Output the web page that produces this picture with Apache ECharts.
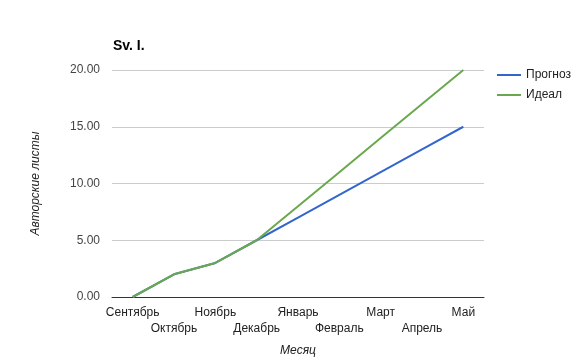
<!DOCTYPE html>
<html><head><meta charset="utf-8">
<script src="https://cdn.jsdelivr.net/npm/echarts@6/dist/echarts.min.js"></script>
<style>html,body{margin:0;padding:0;background:#fff}#c{width:578px;height:364px}</style>
</head><body><div id="c"></div>
<script>
const categories = ['Сентябрь','Октябрь','Ноябрь','Декабрь','Январь','Февраль','Март','Апрель','Май'];
const forecast = [0, 2, 3, 5, 7, 9, 11, 13, 15];
const ideal = [0, 2, 3, 5, 8, 11, 14, 17, 20];
const yTicks = [0, 5, 10, 15, 20];

const chart = echarts.init(document.getElementById('c'), null, {renderer: 'canvas'});
const font = 'Liberation Sans, Arial, sans-serif';
chart.setOption({
  animation: false,
  textStyle: {fontFamily: font},
  title: {text: 'Sv. I.', left: 108, top: 34, textStyle: {fontFamily: font, fontSize: 14, fontWeight: 'bold', color: '#000'}},
  legend: {
    orient: 'vertical', left: 492, top: 64, itemWidth: 24, itemHeight: 2, itemGap: 8,
    icon: 'rect',
    textStyle: {fontFamily: font, fontSize: 12, color: '#222'},
    data: ['Прогноз', 'Идеал']
  },
  grid: {left: 112, right: 94, top: 70, bottom: 67, containLabel: false},
  xAxis: {
    type: 'category', data: categories, boundaryGap: true,
    name: 'Месяц', nameLocation: 'middle', nameGap: 48,
    nameTextStyle: {fontFamily: font, fontSize: 12, fontStyle: 'italic', color: '#222'},
    axisLine: {lineStyle: {color: '#333', width: 1}},
    axisTick: {show: false},
    axisLabel: {
      interval: 0, margin: 8, fontSize: 12, color: '#222', lineHeight: 16, fontFamily: font,
      formatter: (v, i) => (i % 2 === 1 ? '\n' + v : v)
    }
  },
  yAxis: {
    type: 'value', min: yTicks[0], max: yTicks[yTicks.length - 1], interval: 5,
    name: 'Авторские листы', nameLocation: 'middle', nameGap: 70, nameRotate: 90,
    nameTextStyle: {fontFamily: font, fontSize: 12, fontStyle: 'italic', color: '#222'},
    axisLine: {show: false}, axisTick: {show: false},
    axisLabel: {margin: 12, fontSize: 12, color: '#444', fontFamily: font, formatter: v => v.toFixed(2)},
    splitLine: {lineStyle: {color: '#cccccc', width: 1}}
  },
  series: [
    {name: 'Прогноз', type: 'line', data: forecast, symbol: 'none', color: '#3366cc', lineStyle: {width: 2, color: '#3366cc'}, z: 2},
    {name: 'Идеал', type: 'line', data: ideal, symbol: 'none', color: '#6aa84f', lineStyle: {width: 2, color: '#6aa84f'}, z: 3}
  ]
});
</script>
</body></html>
